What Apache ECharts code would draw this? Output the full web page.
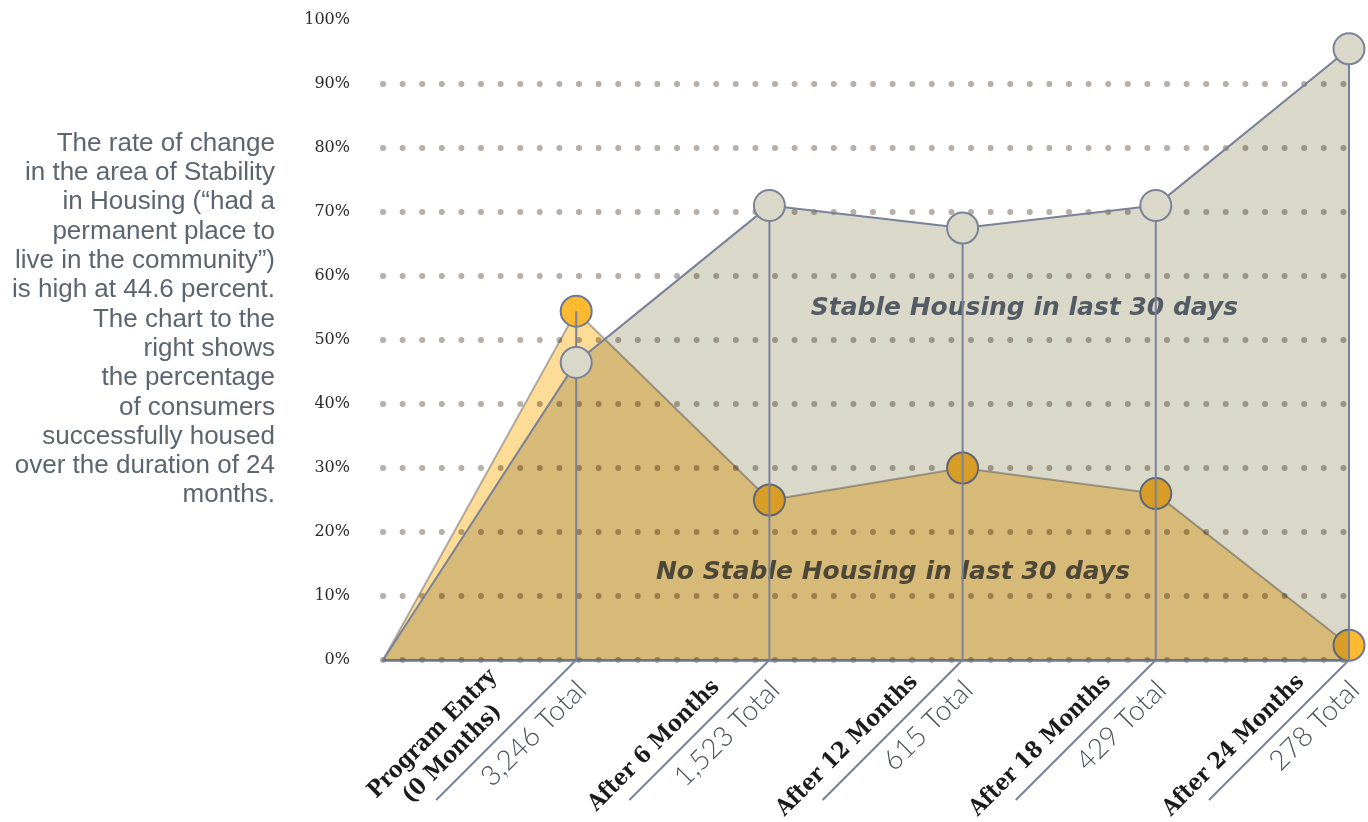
<!DOCTYPE html>
<html>
<head>
<meta charset="utf-8">
<script src="https://cdn.jsdelivr.net/npm/echarts@6/dist/echarts.min.js"></script>
<style>
  html, body { margin: 0; padding: 0; background: #fff; }
  #main { width: 1368px; height: 822px; }
</style>
</head>
<body>
<div id="main"></div>
<script>
// x positions: 0 = origin, then one step per survey point
var steps = [0, 1, 2, 3, 4, 5];
// % with stable housing in last 30 days
var stable = [0, 46.5, 71, 67.5, 71, 95.5];
// % with no stable housing in last 30 days
var noStable = [0, 54.5, 25, 30, 26, 2.3];
var stepNames = ['', 'Program Entry\n(0 Months)', 'After 6 Months', 'After 12 Months', 'After 18 Months', 'After 24 Months'];
var totals = ['', '3,246 Total', '1,523 Total', '615 Total', '429 Total', '278 Total'];
var introLines = [
  'The rate of change',
  'in the area of Stability',
  'in Housing (\u201chad a',
  'permanent place to',
  'live in the community\u201d)',
  'is high at 44.6 percent.',
  'The chart to the',
  'right shows',
  'the percentage',
  'of consumers',
  'successfully housed',
  'over the duration of 24',
  'months.'
];

var LINE = '#7A8299';
var S2 = Math.SQRT1_2;

// move from p by a along the 45deg label direction and g across it
function along(p, a, g) {
  return [p[0] + a * S2 + g * S2, p[1] - a * S2 + g * S2];
}

function renderAll(params, api) {
  var kids = [];
  var last = steps.length - 1;
  var top = steps.map(function (s, i) { return api.coord([s, stable[i]]); });
  var low = steps.map(function (s, i) { return api.coord([s, noStable[i]]); });
  var base = steps.map(function (s) { return api.coord([s, 0]); });
  var i;

  // orange area first, then its dots, then the grey area printed over both
  kids.push({
    type: 'polygon', name: 'multiply',
    shape: { points: low.concat([base[last]]) },
    style: { fill: '#FDDC98' }
  });
  kids.push({
    type: 'polyline', name: 'multiply',
    shape: { points: low },
    style: { stroke: '#B3B7C4', lineWidth: 2, lineJoin: 'round', fill: null }
  });
  for (i = 1; i <= last; i++) {
    kids.push({
      type: 'circle',
      shape: { cx: low[i][0], cy: low[i][1], r: 15.5 },
      style: { fill: '#FDBA30', stroke: '#6F7893', lineWidth: 2 }
    });
  }
  kids.push({
    type: 'polygon', name: 'multiply',
    shape: { points: top.concat([base[last]]) },
    style: { fill: '#DAD8C9' }
  });

  var p1 = api.coord([3.32, 55]);
  kids.push({
    type: 'text', x: p1[0], y: p1[1],
    style: { text: 'Stable Housing in last 30 days', font: 'italic bold 25px "DejaVu Sans"',
      fill: '#535C64', align: 'center', verticalAlign: 'middle' }
  });
  var p2 = api.coord([2.64, 13.7]);
  kids.push({
    type: 'text', x: p2[0], y: p2[1],
    style: { text: 'No Stable Housing in last 30 days', font: 'italic bold 25px "DejaVu Sans"',
      fill: '#4C4737', align: 'center', verticalAlign: 'middle' }
  });

  kids.push({
    type: 'polyline',
    shape: { points: top },
    style: { stroke: LINE, lineWidth: 2, lineJoin: 'round', fill: null }
  });
  for (i = 1; i <= last; i++) {
    var hi = api.coord([steps[i], Math.max(stable[i], noStable[i])]);
    kids.push({
      type: 'line',
      shape: { x1: hi[0], y1: hi[1], x2: base[i][0], y2: base[i][1] },
      style: { stroke: LINE, lineWidth: 2 }
    });
  }
  for (i = 1; i <= last; i++) {
    kids.push({
      type: 'circle',
      shape: { cx: top[i][0], cy: top[i][1], r: 15.5 },
      style: { fill: '#DAD8C9', stroke: LINE, lineWidth: 2 }
    });
  }

  // slanted category labels under the axis
  for (i = 1; i <= last; i++) {
    var p = base[i];
    var end = along(p, -198, 0);
    kids.push({
      type: 'line',
      shape: { x1: p[0], y1: p[1], x2: end[0], y2: end[1] },
      style: { stroke: LINE, lineWidth: 2 }
    });
    var t = along(p, -14, 8);
    kids.push({
      type: 'text', x: t[0], y: t[1], rotation: Math.PI / 4,
      style: { text: totals[i], font: '300 28px Lato', fill: '#4D525C',
        align: 'right', verticalAlign: 'top' }
    });
    var twoLines = stepNames[i].indexOf('\n') >= 0;
    var n = along(p, twoLines ? -154 : -142, -7);
    kids.push({
      type: 'text', x: n[0], y: n[1], rotation: Math.PI / 4,
      style: { text: stepNames[i], font: 'bold 23px "DejaVu Serif Condensed", "DejaVu Serif"', fill: '#1B1B1B',
        lineHeight: 28, align: 'center', verticalAlign: 'bottom' }
    });
  }

  return { type: 'group', children: kids };
}

var chart = echarts.init(document.getElementById('main'));
chart.setOption({
  animation: false,
  grid: { left: 383, right: 19, top: 20, bottom: 162 },
  graphic: [{
    type: 'text',
    x: 275, y: 129,
    style: {
      text: introLines.join('\n'),
      font: '26px "Liberation Sans"',
      fill: '#5C6570',
      lineHeight: 29.3,
      align: 'right',
      verticalAlign: 'top'
    }
  }],
  xAxis: {
    type: 'value', min: 0, max: 5, interval: 1,
    axisLine: { lineStyle: { color: '#6F7893', width: 2.5 } },
    axisTick: { show: false },
    axisLabel: { show: false },
    splitLine: { show: false }
  },
  yAxis: {
    type: 'value', min: 0, max: 100, interval: 10,
    axisLine: { show: false },
    axisTick: { show: false },
    axisLabel: {
      formatter: '{value}%', margin: 33, color: '#2B2B2B',
      fontFamily: 'DejaVu Serif', fontSize: 16, padding: [0, 0, 9, 0]
    },
    splitLine: {
      showMaxLine: false,
      lineStyle: { color: '#B7AFA8', width: 6, type: [0, 19.6], cap: 'round' }
    }
  },
  series: [{
    type: 'custom',
    coordinateSystem: 'cartesian2d',
    data: [[0, 0]],
    clip: false,
    silent: true,
    renderItem: renderAll
  }]
});

// the two areas are printed in multiply mode, as in the original
var zr = chart.getZr();
zr.storage.getDisplayList(true).forEach(function (el) {
  if (el.name === 'multiply') {
    el.style.blend = 'multiply';
    el.markRedraw();
  }
});
zr.refreshImmediately();
</script>
</body>
</html>
